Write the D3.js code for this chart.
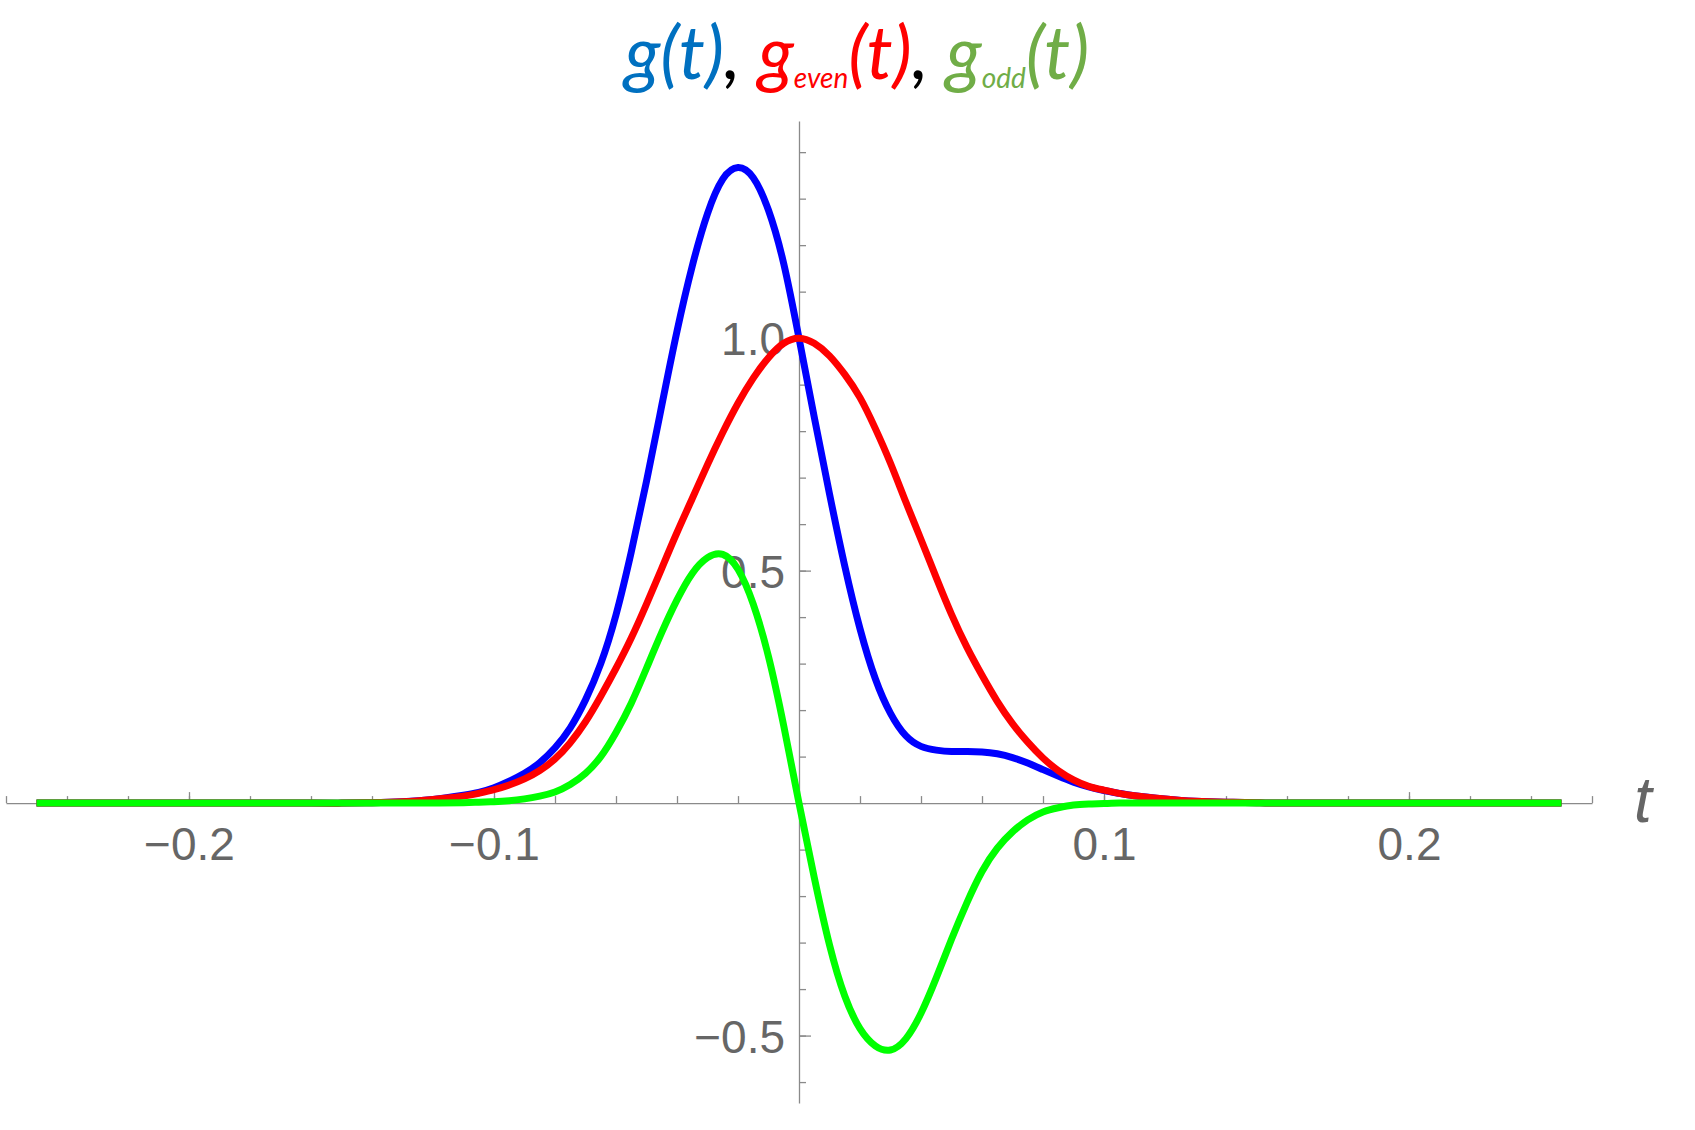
<!DOCTYPE html>
<html>
<head>
<meta charset="utf-8">
<script src="https://cdn.jsdelivr.net/npm/d3@7"></script>
<style>
  body { margin: 0; background: #fff; }
</style>
</head>
<body>
<div id="chart-area"></div>
<script>
// values
const tValues = [
  -0.25, -0.2, -0.16, -0.15, -0.14, -0.13, -0.12, -0.11, -0.105,
  -0.1, -0.095, -0.09, -0.085, -0.08, -0.075, -0.07, -0.065, -0.06, -0.055,
  -0.05, -0.045, -0.04, -0.035, -0.03, -0.025, -0.02, -0.015, -0.01, -0.005,
  0, 0.005, 0.01, 0.015, 0.02, 0.025, 0.03, 0.035, 0.04, 0.045,
  0.05, 0.055, 0.06, 0.065, 0.07, 0.075, 0.08, 0.085, 0.09, 0.095,
  0.1, 0.105, 0.11, 0.12, 0.13, 0.14, 0.15, 0.16, 0.2, 0.25
];
const gValues = [
  0, 0, 0, 0, 0.001, 0.003, 0.008, 0.017, 0.023,
  0.033, 0.047, 0.064, 0.087, 0.119, 0.162, 0.222, 0.3, 0.405, 0.54,
  0.692, 0.855, 1.015, 1.155, 1.268, 1.342, 1.367, 1.345, 1.275, 1.16,
  1.0, 0.83, 0.665, 0.51, 0.375, 0.268, 0.193, 0.145, 0.122, 0.114,
  0.111, 0.111, 0.11, 0.106, 0.098, 0.086, 0.072, 0.058, 0.045, 0.035,
  0.027, 0.021, 0.016, 0.009, 0.004, 0.002, 0.001, 0, 0, 0
];
const gEvenValues = [
  0, 0, 0, 0, 0.001, 0.003, 0.008, 0.015, 0.021,
  0.029, 0.039, 0.052, 0.07, 0.095, 0.13, 0.175, 0.23, 0.29, 0.355,
  0.428, 0.505, 0.582, 0.655, 0.728, 0.797, 0.86, 0.914, 0.958, 0.989,
  1.0, 0.989, 0.962, 0.922, 0.872, 0.806, 0.731, 0.648, 0.567, 0.485,
  0.406, 0.336, 0.275, 0.219, 0.171, 0.131, 0.097, 0.07, 0.05, 0.036,
  0.028, 0.021, 0.016, 0.009, 0.004, 0.002, 0.001, 0, 0, 0
];
const gOddValues = [
  0, 0, 0, 0, 0, 0, 0, 0.001, 0.002,
  0.003, 0.005, 0.009, 0.015, 0.024, 0.04, 0.064, 0.1, 0.152, 0.215,
  0.29, 0.367, 0.437, 0.494, 0.528, 0.535, 0.503, 0.428, 0.315, 0.166,
  0, -0.16, -0.305, -0.415, -0.485, -0.522, -0.531, -0.507, -0.452, -0.376,
  -0.293, -0.215, -0.147, -0.097, -0.062, -0.036, -0.019, -0.01, -0.004, -0.002,
  -0.001, 0, 0, 0, 0, 0, 0, 0, 0, 0
];

const xMajorTicks = [-0.2, -0.1, 0.1, 0.2];
const xTickLabels = ["\u22120.2", "\u22120.1", "0.1", "0.2"];
const yMajorTicks = [-0.5, 0.5, 1.0];
const yTickLabels = ["\u22120.5", "0.5", "1.0"];

const svgWidth = 1695;
const svgHeight = 1130;
const axisColor = "#8a8a8a";
const labelColor = "#666666";

const canvas = d3.select("#chart-area")
  .append("svg")
    .attr("width", svgWidth)
    .attr("height", svgHeight);

const x = d3.scaleLinear()
  .domain([-0.26, 0.26])
  .range([6, 1592]);
const y = d3.scaleLinear()
  .domain([-0.645, 1.467])
  .range([1103, 121]);

// minor ticks every 0.02 on t, every 0.1 on y
const xMinorTicks = d3.range(-13, 14).map(i => i * 0.02);
const yMinorTicks = d3.range(-6, 15).map(i => i * 0.1);

// x axis: ticks point up, labels below
const xAxis = canvas.append("g")
  .attr("transform", `translate(0,${y(0)})`);
xAxis.append("g")
  .call(d3.axisTop(x).tickValues(xMinorTicks).tickFormat("").tickSizeInner(7).tickSizeOuter(0));
xAxis.append("g")
  .call(d3.axisTop(x).tickValues(xMajorTicks).tickFormat("").tickSizeInner(11).tickSizeOuter(0))
  .call(g => g.select(".domain").remove());
xAxis.append("g")
  .call(d3.axisBottom(x).tickValues(xMajorTicks)
    .tickFormat((d, i) => xTickLabels[i]).tickSize(0).tickPadding(24))
  .call(g => g.select(".domain").remove());
xAxis.selectAll("path, line")
  .attr("stroke", axisColor)
  .attr("stroke-width", 1.3);
xAxis.selectAll("text")
  .attr("fill", labelColor)
  .attr("font-family", "Liberation Sans, Arial, sans-serif")
  .attr("font-size", 46);

// y axis: ticks point right, labels left
const yAxis = canvas.append("g")
  .attr("transform", `translate(${x(0)},0)`);
yAxis.append("g")
  .call(d3.axisRight(y).tickValues(yMinorTicks).tickFormat("").tickSizeInner(7).tickSizeOuter(0));
yAxis.append("g")
  .call(d3.axisRight(y).tickValues(yMajorTicks).tickFormat("").tickSizeInner(12).tickSizeOuter(0))
  .call(g => g.select(".domain").remove());
yAxis.append("g")
  .call(d3.axisLeft(y).tickValues(yMajorTicks)
    .tickFormat((d, i) => yTickLabels[i]).tickSize(0).tickPadding(14))
  .call(g => g.select(".domain").remove());
yAxis.selectAll("path, line")
  .attr("stroke", axisColor)
  .attr("stroke-width", 1.3);
yAxis.selectAll("text")
  .attr("fill", labelColor)
  .attr("font-family", "Liberation Sans, Arial, sans-serif")
  .attr("font-size", 46)
  .attr("dy", "0.36em");

// axis label
canvas.append("text")
  .text("t")
  .attr("x", 1634)
  .attr("y", 822)
  .attr("fill", labelColor)
  .attr("font-family", "Liberation Sans, Arial, sans-serif")
  .attr("font-style", "italic")
  .attr("font-size", 64);

// curves
const series = [
  {values: gValues, color: "#0000ff"},
  {values: gEvenValues, color: "#ff0000"},
  {values: gOddValues, color: "#00ff00"}
];
const line = d3.line()
  .x(d => x(d[0]))
  .y(d => y(d[1]))
  .curve(d3.curveNatural);

canvas.append("g")
  .selectAll("path")
  .data(series)
  .enter()
  .append("path")
    .attr("fill", "none")
    .attr("stroke", s => s.color)
    .attr("stroke-width", 7)
    .attr("stroke-linejoin", "round")
    .attr("d", s => line(tValues.map((t, i) => [t, s.values[i]])));

// Title
const title = canvas.append("text")
  .attr("x", 857)
  .attr("y", 79)
  .attr("text-anchor", "middle")
  .attr("font-family", "Lato, 'Open Sans', sans-serif")
  .attr("font-style", "italic")
  .attr("font-size", 74);
title.append("tspan").text("g(t)").attr("fill", "#0070c0");
title.append("tspan").text(", ").attr("fill", "#000000");
title.append("tspan").text("g").attr("fill", "#ff0000");
title.append("tspan").text("even").attr("fill", "#ff0000")
  .attr("font-size", 28).attr("dy", 9);
title.append("tspan").text("(t)").attr("fill", "#ff0000").attr("dy", -9);
title.append("tspan").text(", ").attr("fill", "#000000");
title.append("tspan").text("g").attr("fill", "#70ad47");
title.append("tspan").text("odd").attr("fill", "#70ad47")
  .attr("font-size", 28).attr("dy", 9);
title.append("tspan").text("(t)").attr("fill", "#70ad47").attr("dy", -9);
</script>
</body>
</html>
